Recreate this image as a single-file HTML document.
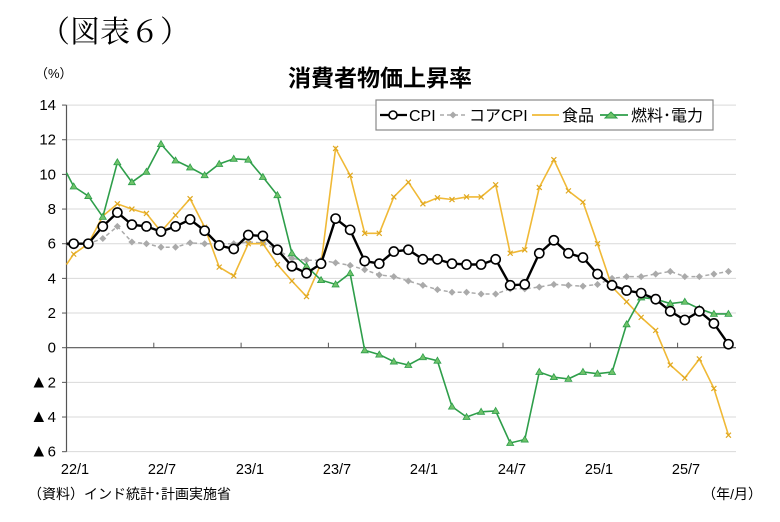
<!DOCTYPE html>
<html><head><meta charset="utf-8"><style>
html,body{margin:0;padding:0;background:#fff;width:780px;height:522px;overflow:hidden}
svg{display:block}
text{font-family:"Liberation Sans","Noto Sans CJK JP",sans-serif;fill:#000}
</style></head><body>
<svg id="s" width="780" height="522" viewBox="0 0 780 522" xmlns="http://www.w3.org/2000/svg">
<text x="40" y="42" style="font-family:'Liberation Serif','Noto Serif CJK SC',serif;font-size:30px">（図表６）</text>
<text x="35" y="78" font-size="13">（%）</text>
<text x="380" y="86" font-size="23" text-anchor="middle" style="font-weight:600">消費者物価上昇率</text>
<g id="grid"></g>
<g id="series"></g>
<rect x="376" y="100" width="337" height="30" fill="#fff" stroke="#888" stroke-width="1.2"/>
<line x1="380" y1="115" x2="407" y2="115" stroke="#000" stroke-width="2.2"/>
<circle cx="393" cy="115" r="4" fill="#fff" stroke="#000" stroke-width="1.6"/>
<text x="409" y="121" font-size="16">CPI</text>
<line x1="440" y1="115" x2="467" y2="115" stroke="#aaa" stroke-width="1.5" stroke-dasharray="4,3"/>
<rect x="450.5" y="112.5" width="5" height="5" fill="#aaa" transform="rotate(45 453 115)"/>
<text x="469" y="121" font-size="16">コアCPI</text>
<line x1="532" y1="115" x2="559" y2="115" stroke="#f0b936" stroke-width="1.8"/>
<text x="562" y="121" font-size="16">食品</text>
<line x1="600" y1="115" x2="628" y2="115" stroke="#2e9e4a" stroke-width="1.8"/>
<path d="M611 112 L617 118 L605 118 Z" fill="#6fc36a" stroke="#2e9e4a"/>
<text x="631" y="121" font-size="16">燃料･電力</text>
<g font-size="14.5">
<text x="75" y="474" text-anchor="middle">22/1</text>
<text x="162" y="474" text-anchor="middle">22/7</text>
<text x="250" y="474" text-anchor="middle">23/1</text>
<text x="337" y="474" text-anchor="middle">23/7</text>
<text x="424" y="474" text-anchor="middle">24/1</text>
<text x="512" y="474" text-anchor="middle">24/7</text>
<text x="599" y="474" text-anchor="middle">25/1</text>
<text x="686" y="474" text-anchor="middle">25/7</text>
</g>
<g font-size="15" text-anchor="end" id="ylab"></g>
<text x="28" y="499" font-size="14">（資料）インド統計･計画実施省</text>
<text x="762" y="499" font-size="14" text-anchor="end">（年/月）</text>
</svg>
<script>
var ns="http://www.w3.org/2000/svg";
function Y(v){return 347.7-v*17.33;}
function X(i){return 73.7+14.55*i;}
function el(p,tag,a){var e=document.createElementNS(ns,tag);for(var k in a)e.setAttribute(k,a[k]);p.appendChild(e);return e;}
var g=document.getElementById("grid");
var labs=document.getElementById("ylab");
var vals=[14,12,10,8,6,4,2,0,-2,-4,-6];
vals.forEach(function(v){
  var t=el(labs,"text",{x:56,y:(Y(v)+5).toFixed(1)});
  if(v<0){var a=el(t,"tspan",{"font-size":"18"});a.textContent="▲";var b=el(t,"tspan",{});b.textContent=String(-v);}
  else t.textContent=String(v);
  el(g,"line",{x1:66.5,x2:736,y1:Y(v),y2:Y(v),stroke:v==0?"#555":"#d9d9d9","stroke-width":v==0?1.2:1});
  el(g,"line",{x1:62,x2:66.5,y1:Y(v),y2:Y(v),stroke:"#555"});
});
el(g,"line",{x1:66.5,x2:66.5,y1:Y(14),y2:Y(-6),stroke:"#555","stroke-width":1.2});
for(var k=1;k<8;k++){var tx=66.5+14.55*6*k;el(g,"line",{x1:tx,x2:tx,y1:Y(0),y2:Y(0)-5,stroke:"#555"});}
var cpi=[6.0,6.0,7.0,7.8,7.1,7.0,6.7,7.0,7.4,6.75,5.9,5.7,6.5,6.45,5.65,4.7,4.3,4.85,7.45,6.8,5.0,4.85,5.55,5.65,5.1,5.1,4.85,4.8,4.8,5.1,3.6,3.65,5.45,6.2,5.45,5.2,4.25,3.6,3.3,3.15,2.8,2.1,1.6,2.1,1.4,0.2];
var core=[6.0,6.0,6.3,7.0,6.1,6.0,5.8,5.8,6.05,6.0,6.0,6.0,6.1,6.05,5.65,5.15,5.05,5.05,4.9,4.75,4.5,4.2,4.1,3.85,3.6,3.35,3.2,3.2,3.1,3.1,3.4,3.4,3.5,3.65,3.6,3.55,3.65,4.0,4.1,4.1,4.25,4.4,4.1,4.1,4.25,4.4];
var food=[5.4,6.0,7.6,8.3,8.0,7.75,6.7,7.65,8.6,6.95,4.65,4.15,6.0,6.0,4.8,3.85,2.95,4.85,11.5,9.95,6.6,6.6,8.7,9.55,8.3,8.65,8.55,8.7,8.7,9.4,5.45,5.65,9.25,10.85,9.05,8.4,6.0,3.5,2.65,1.75,1.0,-1.0,-1.75,-0.65,-2.35,-5.05];
var fuel=[9.3,8.75,7.55,10.7,9.55,10.15,11.75,10.8,10.4,9.95,10.6,10.9,10.85,9.85,8.8,5.45,4.7,3.9,3.65,4.3,-0.15,-0.4,-0.8,-1.0,-0.55,-0.75,-3.4,-4.0,-3.7,-3.65,-5.5,-5.3,-1.4,-1.7,-1.8,-1.4,-1.5,-1.4,1.35,2.9,2.8,2.55,2.65,2.25,1.95,1.95];
var s=document.getElementById("series");
function pts(d,first){var p=[];if(first!==undefined)p.push("66.5,"+Y(first).toFixed(1));d.forEach(function(v,i){p.push(X(i).toFixed(1)+","+Y(v).toFixed(1));});return p.join(" ");}
el(s,"polyline",{points:pts(core,5.9),fill:"none",stroke:"#aaa","stroke-width":1.5,"stroke-dasharray":"4,3"});
core.forEach(function(v,i){el(s,"rect",{x:X(i)-2.5,y:Y(v)-2.5,width:5,height:5,fill:"#aaa",transform:"rotate(45 "+X(i)+" "+Y(v)+")"});});
el(s,"polyline",{points:pts(food,4.8),fill:"none",stroke:"#f0b936","stroke-width":1.6});
food.forEach(function(v,i){el(s,"path",{d:"M"+(X(i)-2.5)+" "+(Y(v)-2.5)+"l5 5m0 -5l-5 5",stroke:"#e0a820","stroke-width":1.2});});
el(s,"polyline",{points:pts(fuel,10.1),fill:"none",stroke:"#2e9e4a","stroke-width":1.6});
fuel.forEach(function(v,i){var x=X(i),y=Y(v);el(s,"path",{d:"M"+x+" "+(y-3.5)+"L"+(x+3.5)+" "+(y+2.5)+"L"+(x-3.5)+" "+(y+2.5)+"Z",fill:"#6fc36a",stroke:"#2e9e4a","stroke-width":0.8});});
el(s,"polyline",{points:pts(cpi,6.0),fill:"none",stroke:"#000","stroke-width":2.4});
cpi.forEach(function(v,i){el(s,"circle",{cx:X(i),cy:Y(v),r:4.6,fill:"#fff",stroke:"#000","stroke-width":1.6});});
</script>
</body></html>
